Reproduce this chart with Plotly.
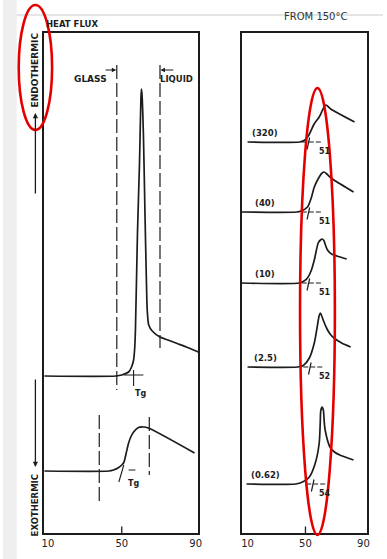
import plotly.graph_objects as go

W, H = 387, 559

# ---------------- data ----------------
# Left panel: DSC heat-flux traces (temperature in deg C, heat flux arbitrary units)
left_top_x = [8, 46.8, 50, 53.7, 55.3, 56.4, 57.0, 57.4, 58.5, 59.6, 60.3, 60.6, 60.9,
              61.7, 62.5, 63.3, 63.8, 64.6, 66.5, 70.7, 75, 80, 85, 91.5]
left_top_y = [31.4, 31.4, 31.6, 32.2, 33.2, 34.6, 37.0, 40.6, 60, 74, 86, 88.8, 88,
              80, 65, 51, 44.5, 41.6, 40.4, 39.2, 38.6, 37.9, 37.2, 36.2]

left_bot_x = [8, 43, 45.5, 47.9, 50, 51.1, 52.4, 53.7, 55, 56.4, 59, 61.7, 64.4, 89.4]
left_bot_y = [12.4, 12.4, 12.6, 13.0, 13.6, 14.1, 16.0, 18.0, 19.3, 20.2, 21.1, 21.2, 21.0, 16.0]

left_tg = [56.4, 51.1]          # onset construction points (top, bottom)
glass_x = [47.3, 37.8]          # dashed limits (top, bottom)
liquid_x = [70.7, 64.9]

# Right panel: cooling-rate series (label, Tg)
rates = ["(320)", "(40)", "(10)", "(2.5)", "(0.62)"]
tg_vals = [51, 51, 51, 52, 54]

r320_x = [10, 45.9, 49, 51.5, 53.4, 56, 59.5, 61.5, 63.0, 64.2, 65.6, 67.5, 83.9]
r320_y = [78.2, 78.2, 78.5, 79.2, 80.2, 81.8, 83.2, 84.4, 85.3, 85.6, 85.3, 84.8, 82.2]

r40_x = [5.9, 44, 47, 51.4, 54, 56.1, 59.5, 61.5, 62.9, 64.4, 66.5, 69.7, 83.2]
r40_y = [64.2, 64.2, 64.4, 65.2, 67.0, 69.2, 71.2, 72.0, 72.2, 71.9, 71.3, 70.6, 68.2]

r10_x = [5.9, 45.9, 49, 51.4, 54, 56.1, 58.8, 60.4, 61.5, 62.7, 63.8, 65.2, 68, 71.7, 78.5]
r10_y = [50.0, 50.0, 50.4, 51.0, 52.5, 54.6, 58.0, 58.6, 58.8, 58.5, 57.6, 56.6, 55.8, 55.4, 54.8]

r2_5_x = [10, 44.6, 48.5, 52.7, 56.1, 58.1, 59.4, 60.2, 61.0, 62.5, 64.9, 67, 69.7, 75, 81.2]
r2_5_y = [33.2, 33.2, 33.5, 35.0, 38.0, 41.2, 43.4, 44.0, 43.6, 42.4, 40.8, 39.8, 39.0, 38.0, 37.2]

r062_x = [9.3, 43.2, 48, 52.7, 56.8, 59.5, 60.2, 60.6, 61.5, 62.4, 62.9, 63.6, 66.9, 70, 73.7, 83.2]
r062_y = [9.8, 9.8, 10.2, 11.2, 14.0, 18.0, 22.0, 24.5, 25.2, 24.5, 22.5, 20.6, 17.2, 16.2, 15.6, 14.6]

right_curves = [(r320_x, r320_y), (r40_x, r40_y), (r10_x, r10_y), (r2_5_x, r2_5_y), (r062_x, r062_y)]

x_ticks = [10, 50, 90]

# ---------------- helpers ----------------
def px(x):
    return x / W

def py(y):
    return 1 - y / H

INK = "#1c1c1c"
FONT = "DejaVu Sans"

fig = go.Figure()

def line(xs, ys, xa, ya, width=1.7, dash=None, color=INK):
    fig.add_trace(go.Scatter(x=xs, y=ys, mode="lines", xaxis=xa, yaxis=ya,
                             line=dict(color=color, width=width, dash=dash, shape="spline", smoothing=0.7),
                             hoverinfo="skip", showlegend=False))

def straight(xs, ys, xa, ya, width=1.2, dash=None, color=INK):
    fig.add_trace(go.Scatter(x=xs, y=ys, mode="lines", xaxis=xa, yaxis=ya,
                             line=dict(color=color, width=width, dash=dash),
                             hoverinfo="skip", showlegend=False))

# left panel curves
line(left_top_x, left_top_y, "x", "y")
line(left_bot_x, left_bot_y, "x", "y")

DASH = "14px,4px"
# glass / liquid dashed limits
straight([glass_x[0]] * 2, [93.6, 28.6], "x", "y", dash=DASH)
straight([liquid_x[0]] * 2, [93.6, 37.0], "x", "y", dash=DASH)
straight([glass_x[1]] * 2, [23.6, 6.2], "x", "y", dash=DASH)
straight([liquid_x[1]] * 2, [23.2, 11.6], "x", "y", dash=DASH)

# Tg constructions, left
b0 = left_top_y[0]
straight([left_tg[0] - 5.3, left_tg[0] + 5.3], [b0 + 0.2, b0 + 0.2], "x", "y", width=1.1)
straight([left_tg[0], left_tg[0]], [b0 + 1.2, b0 - 2.0], "x", "y", width=1.1)
b1 = left_bot_y[0]
straight([left_tg[1] - 2.7, left_tg[1]], [b1 - 2.2, b1 + 1.2], "x", "y", width=1.1)
straight([left_tg[1] + 2.6, left_tg[1] + 6.3], [b1 + 0.2, b1 + 0.2], "x", "y", width=1.0)

# right panel curves + Tg constructions
for (xs, ys), lab, tg in zip(right_curves, rates, tg_vals):
    line(xs, ys, "x2", "y2")
    base = ys[0]
    straight([tg + 1.0 - 4.5, tg + 1.0 + 9.5], [base, base], "x2", "y2", width=1.0, dash="5px,2px")
    straight([tg + 1.0 - 0.9, tg + 1.0 + 0.9], [base - 1.5, base + 0.9], "x2", "y2", width=1.2)

annotations = []

def text(t, x, y, xref, yref, size=9, angle=0, xanchor="center", yanchor="middle", yshift=0, color=INK):
    annotations.append(dict(text=t, x=x, y=y, xref=xref, yref=yref, showarrow=False,
                            font=dict(family=FONT, size=size, color=color), textangle=angle,
                            xanchor=xanchor, yanchor=yanchor, yshift=yshift))

for (xs, ys), lab, tg in zip(right_curves, rates, tg_vals):
    text("<b>%s</b>" % lab, 22.2, ys[0], "x2", "y2", size=8.5, yshift=9)
    text("<b>%d</b>" % tg, 63.2, ys[0], "x2", "y2", size=8, yshift=-9)

# left panel texts
text("<b>Tg</b>", 60.4, 28.0, "x", "y", size=8)
text("<b>Tg</b>", 56.2, 10.0, "x", "y", size=8)
text("<b>GLASS</b>", 33.0, 90.8, "x", "y", size=9)
text("<b>LIQUID</b>", 79.8, 90.8, "x", "y", size=8.5)
text("<b>HEAT FLUX</b>", px(42), py(24), "paper", "paper", size=8.5, xanchor="left")
text("<b>ENDOTHERMIC</b>", px(33), py(70), "paper", "paper", size=9, angle=-90)
text("<b>EXOTHERMIC</b>", px(33), py(505), "paper", "paper", size=8.5, angle=-90)
text("FROM 150°C", px(318), py(17), "paper", "paper", size=10, color="#333")

# arrows
annotations.append(dict(x=glass_x[0] - 0.3, y=92.6, ax=40.4, ay=92.6, xref="x", yref="y", axref="x", ayref="y",
                        showarrow=True, arrowhead=2, arrowsize=0.8, arrowwidth=1.1, arrowcolor=INK, text=""))
annotations.append(dict(x=liquid_x[0] + 0.3, y=92.6, ax=78.7, ay=92.6, xref="x", yref="y", axref="x", ayref="y",
                        showarrow=True, arrowhead=2, arrowsize=0.8, arrowwidth=1.1, arrowcolor=INK, text=""))
annotations.append(dict(x=px(33), y=py(113), ax=0, ay=82, xref="paper", yref="paper",
                        showarrow=True, arrowhead=2, arrowsize=0.8, arrowwidth=1.3, arrowcolor=INK, text=""))
annotations.append(dict(x=px(33), y=py(467), ax=0, ay=-89, xref="paper", yref="paper",
                        showarrow=True, arrowhead=2, arrowsize=0.8, arrowwidth=1.3, arrowcolor=INK, text=""))

shapes = [
    # screenshot margins
    dict(type="rect", xref="paper", yref="paper", x0=0, x1=px(14), y0=0, y1=1,
         fillcolor="#efefef", line=dict(width=0), layer="below"),
    dict(type="line", xref="paper", yref="paper", x0=px(14), x1=1, y0=py(15), y1=py(15),
         line=dict(color="#dcdcdc", width=1.5), layer="below"),
    # 50 tick marks
    dict(type="line", xref="x", yref="y domain", x0=50, x1=50, y0=0, y1=0.013, line=dict(color=INK, width=1.3)),
    dict(type="line", xref="x2", yref="y2 domain", x0=50, x1=50, y0=0, y1=0.013, line=dict(color=INK, width=1.3)),
    # red highlight ellipses
    dict(type="circle", xref="paper", yref="paper", x0=px(16), x1=px(50), y0=py(130), y1=py(5),
         line=dict(color="#e50000", width=2.6)),
    dict(type="circle", xref="paper", yref="paper", x0=px(302.5), x1=px(338), y0=py(535), y1=py(88),
         line=dict(color="#e50000", width=2.6)),
]

axis_common = dict(showgrid=False, zeroline=False, showline=True, mirror=True,
                   linecolor=INK, linewidth=2, ticks="", tickvals=x_ticks,
                   ticktext=[str(v) for v in x_ticks],
                   tickfont=dict(family=FONT, size=10, color="#222"))
yaxis_common = dict(showgrid=False, zeroline=False, showline=True, mirror=True,
                    linecolor=INK, linewidth=2, showticklabels=False, ticks="", range=[0, 100])

fig.update_layout(
    width=W, height=H, margin=dict(l=0, r=0, t=0, b=0),
    paper_bgcolor="white", plot_bgcolor="white", showlegend=False,
    xaxis=dict(axis_common, domain=[px(42), px(199)], range=[8.0, 91.5]),
    yaxis=dict(yaxis_common, domain=[py(533), py(33)]),
    xaxis2=dict(axis_common, domain=[px(243), px(371)], range=[5.9, 92.7], anchor="y2"),
    yaxis2=dict(yaxis_common, domain=[py(533), py(33)], anchor="x2"),
    annotations=annotations, shapes=shapes,
)

fig.write_html("out.html", config={"displayModeBar": False},
               post_script="document.body.style.margin='0';document.body.style.padding='0';"
                           "document.body.style.overflow='hidden';")
